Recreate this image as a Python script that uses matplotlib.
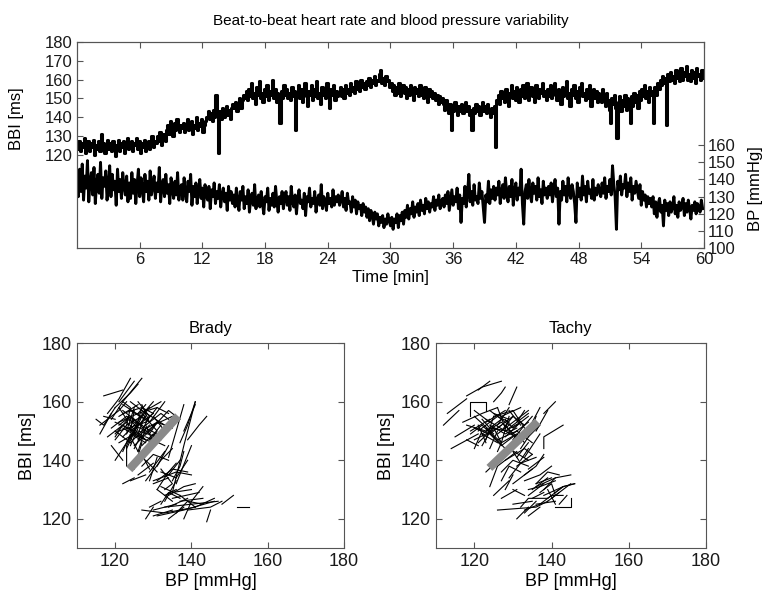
import numpy as np
import matplotlib.pyplot as plt
plt.rcParams['font.family'] = ['Liberation Sans', 'DejaVu Sans']
plt.rcParams['axes.edgecolor'] = '#555555'
plt.rcParams['xtick.color'] = '#555555'
plt.rcParams['ytick.color'] = '#555555'
plt.rcParams['xtick.labelcolor'] = '#1a1a1a'
plt.rcParams['ytick.labelcolor'] = '#1a1a1a'

# beat-to-beat series, one value every 7.5 s (0 .. 59.875 min), one row = 5 min
bbi = [123,127,122,126,124,129,121,125,127,122,126,124,128,120,125,123,127,122,131,124,
       126,121,125,128,123,126,122,127,124,119,125,128,122,126,124,127,121,125,129,123,
       124,127,122,126,125,129,123,127,121,126,124,128,122,125,127,123,126,130,124,127,
       126,130,127,132,125,129,131,127,133,136,131,138,134,130,137,133,139,135,132,136,
       134,137,132,136,139,133,135,138,131,136,134,140,133,137,135,139,132,136,138,140,
       143,139,142,138,144,140,152,141,121,143,139,145,140,142,146,141,144,139,145,147,
       145,148,143,147,150,145,149,152,150,154,149,155,151,158,150,153,147,156,152,159,
       150,153,148,155,151,157,149,154,152,160,150,155,148,153,151,137,154,150,157,152,
       155,150,153,149,156,151,154,133,152,157,150,155,148,153,158,151,146,154,152,157,
       149,155,151,159,150,153,147,156,152,154,150,158,151,145,155,152,157,149,154,151,
       153,156,151,155,150,157,153,155,152,158,154,156,153,159,155,157,154,160,156,158,
       155,159,157,161,156,160,158,162,157,160,159,163,165,158,161,157,162,159,160,156,
       158,154,157,152,156,153,158,151,155,157,153,156,150,155,152,157,154,149,156,153,
       155,151,157,152,154,150,156,153,148,155,151,154,150,153,149,152,147,151,148,150,
       147,144,149,145,142,147,133,146,143,148,144,141,146,143,147,142,145,148,143,146,
       141,144,133,145,142,147,143,146,141,145,148,143,146,142,147,144,140,145,142,146,
       124,149,152,147,154,150,153,148,155,151,146,153,157,150,154,149,156,152,148,155,
       151,157,150,154,158,149,153,156,151,155,148,157,152,150,155,153,158,151,154,149,
       155,151,157,150,154,158,152,149,155,153,147,156,151,154,159,150,153,146,155,152,
       157,150,154,148,156,152,158,151,153,149,155,150,157,146,152,155,150,154,148,153,
       152,148,155,150,146,153,149,144,137,150,147,152,145,129,148,151,143,149,146,152,
       144,150,147,137,151,146,153,148,152,145,154,149,155,151,157,150,154,148,156,152,
       154,137,156,152,158,155,160,157,162,158,161,136,163,159,164,160,162,158,165,161,
       163,159,166,160,164,162,167,160,163,159,165,161,164,158,166,162,163,160,165,161]
bp = [140,130,146,133,149,128,142,135,151,127,139,144,131,147,126,138,143,132,150,129,
      141,136,145,128,137,148,130,143,134,139,125,146,133,140,129,144,136,131,142,127,
      138,129,144,132,140,126,137,146,130,141,135,127,143,133,139,128,145,131,136,142,
      129,138,133,147,127,136,140,130,143,132,137,126,141,134,129,139,131,144,128,135,
      137,128,141,132,127,139,133,143,125,136,130,138,126,134,140,129,135,124,137,131,
      128,136,123,134,130,138,126,133,129,137,124,131,135,127,132,122,136,128,133,126,
      131,124,135,127,122,133,128,136,123,130,126,134,121,129,132,125,137,123,128,131,
      124,133,126,120,130,127,135,122,129,125,132,124,136,127,121,130,126,133,123,129,
      133,125,130,122,136,127,124,131,120,129,134,126,128,123,132,119,130,127,135,124,
      129,126,133,121,128,131,125,137,123,130,127,122,132,126,129,124,134,125,130,127,
      131,125,128,133,124,129,122,132,126,127,121,130,124,128,120,127,123,125,119,126,
      121,124,118,123,116,122,119,114,121,117,120,113,118,115,119,112,117,114,120,116,
      113,118,111,117,115,120,112,119,116,121,114,122,118,125,117,123,120,127,118,124,
      121,126,119,128,122,125,120,129,123,127,121,126,124,130,122,128,125,131,123,127,
      129,124,131,126,133,122,128,134,125,130,127,135,123,131,115,129,126,136,124,132,
      143,127,133,125,137,128,130,126,138,129,133,124,115,131,127,139,126,134,129,136,
      128,135,131,139,126,133,137,129,141,132,127,136,130,140,125,134,138,128,135,131,
      146,126,114,133,137,129,140,131,127,138,132,136,128,141,130,134,126,139,131,135,
      129,136,131,138,127,134,140,130,135,114,133,128,139,131,136,127,141,132,129,137,
      133,126,115,138,130,135,128,142,131,136,127,139,132,134,129,140,128,135,131,137,
      134,130,138,132,141,129,136,133,140,131,148,137,130,111,139,134,142,131,137,135,
      143,130,138,133,141,128,136,132,139,134,129,137,125,133,128,131,124,130,126,129,
      124,130,120,127,118,126,129,121,125,113,128,122,126,119,127,121,124,130,120,125,
      118,127,122,124,129,119,126,121,128,123,117,125,122,127,120,126,124,121,128,123]
t = np.arange(len(bbi)) * 0.125

# short BP/BBI sequences (polylines)
brady_bp = [[116,121,123],[117,122],[118,121,124],[120,124,126],[121,125],[116,119],[119,122,127],
            [117,120],[118,123],[115,117,120],[121,126,131],[122,125,128],[123,127],[124,129,133],
            [120,124],[122,128],[125,127,130],[126,131],[123,126,124],[127,132,134],[121,125],
            [124,128,126],[126,130],[128,133],[122,126,129],[125,124,128],[129,134,137],[123,128],
            [127,131,128],[120,123,127],[126,128],[124,130],[122,125,123],[128,132],[121,124,120],
            [125,129],[130,135],[119,122],[120,124],[123,123,125],[125,127],[134,138],[137,139,141],
            [138,141],[139,142,144],[136,140],[135,138,141],[131,134],[128,132,135],[124,128],
            [122,125],[127,130,134],[129,133],[130,136,140],[132,137],[131,135,139],[133,136],
            [128,131],[134,138,141],[130,134],[136,139],[132,135,133],[127,129],[135,140],
            [127,133,141],[129,132],[131,138,146],[133,140,147],[134,138],[135,142],[136,139,143],
            [130,135],[137,141],[139,145,148],[128,130],[133,136],[148,151],[152,155],[144,145],
            [138,140],[132,134,137],[140,143],[131,135],
            [119,123,126],[121,126],[124,127,131],[125,129],[127,130,132],[120,122,126],[123,125],
            [126,129,127],[122,127],[128,131,134],[124,126],[121,123,127],[129,132],[125,128,131],
            [123,126],[127,129],[120,125,128],[126,131],[122,124,128],[130,133],[124,129],
            [128,130,126],[121,128],[125,127],[127,133],[123,124,122],[129,131,135],[126,128],
            [131,134,136],[134,137],[129,131],[132,136],[135,137,138],[126,130],[134,139],
            [137,143],[130,136],[141,146]]
brady_bbi = [[152,157,160],[162,164],[156,161,168],[158,163,166],[160,167],[149,156],[154,160,168],
             [155,154],[148,153],[154,152,158],[153,156,158],[148,152,150],[144,155],[157,153,160],
             [150,146],[159,154],[149,158,156],[147,153],[155,151,145],[151,156,154],[146,149],
             [160,156,149],[154,160],[148,145],[151,148,152],[157,150,147],[150,157,154],[153,147],
             [156,150,144],[147,152,155],[143,151],[150,156],[157,154,149],[157,160],[152,155,149],
             [145,150],[152,155],[145,140],[140,148],[138,145,150],[137,146],[141,159],[146,152,160],
             [150,159],[147,152,155],[132,145],[129,145,160],[138,145],[133,140,144],[133,135],
             [132,134],[138,142,140],[136,143],[133,136,135],[131,128],[133,137,136],[126,133],
             [140,136],[128,131,132],[132,134],[134,140],[137,132,130],[142,137],[129,130],
             [123,122,124],[124,126],[121,123,126],[124,125,126],[120,124],[127,129],[122,126,125],
             [121,123],[128,124],[123,124,126],[120,124],[128,130],[125,128],[124,124],[119,123],
             [120,126],[125,129,127],[126,131],[130,126],
             [151,155,153],[155,159],[146,150,153],[152,158],[145,149,147],[148,152,149],[150,158],
             [160,155,150],[156,158],[153,158,156],[148,143],[158,154,152],[147,152],[154,151,149],
             [146,153],[159,153],[153,150,155],[150,148],[143,149,146],[155,150],[155,149],
             [152,146,148],[150,153],[144,149],[157,152],[152,158,160],[149,153,151],[156,159],
             [130,136,139],[135,140],[133,141],[136,134],[133,138,143],[135,139],[124,127],
             [126,127],[123,125],[124,127]]
tachy_bp = [[118,122,127],[113,118],[119,119,123,123],[114,121],[115,120],[112,116],[121,124],
            [125,127,128],[129,131],[117,122,126],[119,124],[120,126,130],[122,125],[123,128,132],
            [124,129],[126,131,134],[121,123],[127,129],[125,130,133],[128,132],[120,125],
            [122,127,131],[129,134],[124,126],[130,133,135],[126,128],[118,121],[123,127,126],
            [131,135],[127,132],[120,122],[133,136],[125,128],[132,134,137],[128,131],[138,141],
            [136,139],[138,138,143],[134,136],[135,137],[123,127],[124,126],[126,131],[128,133,135],
            [129,132],[131,134],[127,130,134],[130,135],[133,136,138],[125,129],[132,134],[128,130],
            [129,134],[133,137,140],[135,139],[136,141,145],[134,138],[137,140,141],[138,143,146],
            [139,142],[140,145],[141,145,145],[126,136,139],[130,135],[132,134,139],[131,134],
            [133,136],[134,137],[137,140,143],[139,141],[135,138],[142,144],[130,133],[136,140],
            [141,143,146],[127,131],
            [118,123,127],[120,124],[121,126,129],[123,125],[124,128,131],[125,129],[127,130,133],
            [122,126],[126,131],[128,130,134],[119,122,125],[121,125],[129,132],[124,127,130],
            [130,134],[126,129],[123,128],[127,131,133],[131,133],[120,124,127],[125,127],
            [132,135],[128,132],[122,124,129],[133,135,137],[130,132,136],[131,135],[127,129,132],
            [134,138],[136,139,142],[138,141],[134,137,141],[139,143],[136,141],[133,137]]
tachy_bbi = [[162,165,167],[156,161],[155,160,160,157],[144,149],[148,152],[152,157],[164,167],
             [160,163,165],[159,165],[153,156,158],[150,154],[147,151,155],[145,152],[154,150,153],
             [157,152],[149,154,157],[152,146],[146,155],[155,157,151],[148,153],[155,149],
             [149,153,148],[151,156],[144,150],[147,152,155],[158,151],[147,145],[151,146,143],
             [150,146],[155,158],[144,150],[149,153],[148,144],[144,148,152],[152,147],[156,160],
             [150,157],[144,148,152],[148,155],[153,158],[136,141],[131,138],[138,143],[140,144,142],
             [134,139],[141,146],[136,140,138],[132,137],[135,138,142],[128,133],[140,144],[130,135],
             [144,140],[133,135,138],[130,134],[131,134,135],[128,132],[129,132,128],[128,131,132],
             [126,129],[127,132],[124,124,127],[123,124,126],[125,126],[124,127,127],[120,124],
             [122,126],[121,124],[125,128,128],[130,125],[127,129],[125,128],[130,128],[132,134],
             [129,131,132],[127,130],
             [152,150,154],[157,153],[150,155,153],[147,155],[152,149,151],[156,154],[150,155,152],
             [149,146],[147,150],[154,151,155],[149,152,148],[146,151],[157,152],[149,145,148],
             [149,153],[152,158],[153,157],[146,149,146],[153,157],[151,149,152],[151,146],
             [146,151],[150,147],[154,151,150],[141,145,149],[143,139,141],[138,142],[133,138,136],
             [137,141],[132,136,135],[130,134],[130,131,133],[127,131],[125,126],[123,125]]
# regression lines (BP, BBI end points)
brady_fit = ([123.7, 136.5], [136.9, 155.1])
tachy_fit = ([123.9, 136.4], [137.4, 153.2])

fig = plt.figure(figsize=(7.74, 6.01), dpi=100)

ax1 = fig.add_axes([0.0995, 0.587, 0.810, 0.343])
ax1.plot(t, bbi, color='k', lw=2.2, drawstyle='steps-post')
ax1.set_xlim(0, 60)
ax1.set_ylim(70, 180)
ax1.set_yticks([120, 130, 140, 150, 160, 170, 180])
ax1.set_xticks([6, 12, 18, 24, 30, 36, 42, 48, 54, 60])
ax1.tick_params(direction='in', length=4, labelsize=12, top=True, right=True, pad=3)
ax1.set_ylabel('BBI [ms]', fontsize=12)
ax1.yaxis.set_label_coords(-0.085, 0.63)
ax1.set_xlabel('Time [min]', fontsize=12, labelpad=2)
ax1.set_title('Beat-to-beat heart rate and blood pressure variability', fontsize=11, pad=12)

ax2 = ax1.twinx()
ax2.plot(t, bp, color='k', lw=2.1)
ax2.set_ylim(100, 220)
ax2.set_yticks([100, 110, 120, 130, 140, 150, 160])
ax2.tick_params(direction='in', length=4, labelsize=12, pad=3)
ax2.set_ylabel('BP [mmHg]', fontsize=12)
ax2.yaxis.set_label_coords(1.07, 0.29)

for pos, title, seg_bp, seg_bbi, fit in [([0.0995, 0.088, 0.345, 0.341], 'Brady', brady_bp, brady_bbi, brady_fit),
                                         ([0.563, 0.088, 0.349, 0.341], 'Tachy', tachy_bp, tachy_bbi, tachy_fit)]:
    ax = fig.add_axes(pos)
    for xs, ys in zip(seg_bp, seg_bbi):
        ax.plot(xs, ys, color='k', lw=0.8)
    ax.plot(fit[0], fit[1], color='#8a8a8a', lw=6, solid_capstyle='butt')
    ax.set_xlim(110, 180)
    ax.set_ylim(110, 180)
    ax.set_xticks([120, 140, 160, 180])
    ax.set_yticks([120, 140, 160, 180])
    ax.tick_params(direction='in', length=4, labelsize=13, top=True, right=True)
    ax.set_xlabel('BP [mmHg]', fontsize=13, labelpad=2)
    ax.set_ylabel('BBI [ms]', fontsize=13)
    ax.set_title(title, fontsize=12, pad=7)

plt.savefig('out.png', dpi=100)
